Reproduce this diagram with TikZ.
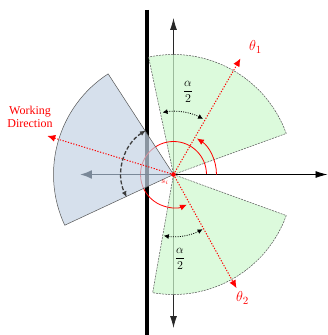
\documentclass[tikz,border=0pt]{standalone}
\usepackage{fontspec}
\setmainfont{Liberation Serif}
\usetikzlibrary{arrows.meta}
\definecolor{sectgreen}{RGB}{205,248,205}
\definecolor{sectblue}{RGB}{196,211,228}
\definecolor{edgegray}{RGB}{85,85,85}
\definecolor{arrowgray}{RGB}{122,136,152}
\definecolor{axisgray}{RGB}{40,40,40}
\begin{document}
\begin{tikzpicture}[x=1pt,y=1pt,
  greensector/.style={fill=sectgreen,fill opacity=0.7,draw=edgegray,dash pattern=on 2pt off 1pt,line width=0.5pt},
  bluesector/.style={fill=sectblue,fill opacity=0.7,draw=edgegray,line width=0.5pt},
  axisarrow/.style={draw=axisgray,line width=0.9pt,-{Latex[length=12pt,width=7pt]}},
  wallline/.style={draw=black,line width=3.5pt},
  reddot/.style={draw=red,line width=1pt,dash pattern=on 1.2pt off 1.6pt,-{Latex[length=8pt,width=7pt]}},
  redarc/.style={draw=red,line width=0.8pt,-{Latex[length=7pt,width=6pt]}},
  alphaarc/.style={draw=black,line width=0.8pt,dash pattern=on 1pt off 1.3pt,{Latex[length=5pt,width=5pt]}-{Latex[length=5pt,width=5pt]}},
  dirarc/.style={draw=axisgray!90,line width=1.3pt,dash pattern=on 4pt off 2pt,{Latex[length=6pt,width=5pt]}-{Latex[length=6pt,width=5pt]}},
  grayarrow/.style={draw=arrowgray,line width=1.8pt,-{Latex[length=12pt,width=9pt]}},
  redlabel/.style={text=red,inner sep=0pt}
]
\useasboundingbox (-173.5,-160.5) rectangle (154.5,174.5);
\coordinate (O) at (0,0);
\coordinate (up) at (0,156.5);
\coordinate (down) at (0,-153.5);
\coordinate (right) at (154,0);
\coordinate (walltop) at (-26.5,164.5);
\coordinate (wallbot) at (-26.5,-161);
\coordinate (left) at (-93.5,0);
\coordinate (t1) at (60:134);
\coordinate (t2) at (-61:130);
\coordinate (wdir) at (163:132);

% axes and wall
\draw[axisarrow] (O) -- (up);
\draw[axisarrow] (O) -- (down);
\draw[wallline] (walltop) -- (wallbot);

% green sectors
\path[greensector] (O) -- (20:120) arc[start angle=20,end angle=102,radius=120] -- cycle;
\path[greensector] (O) -- (-20:120) arc[start angle=-20,end angle=-100,radius=120] -- cycle;

% red inner arc (under the blue sector)
\draw[redarc] (O) ++(0:33) arc[start angle=0,end angle=294,radius=33];

% blue sector
\path[bluesector] (O) -- (123:120) arc[start angle=123,end angle=205,radius=120] -- cycle;

\draw[axisarrow,draw=black] (O) -- (right);
\draw[grayarrow] (O) -- (left);

% red direction lines
\draw[reddot] (O) -- (t1);
\draw[reddot] (O) -- (t2);
\draw[reddot] (O) -- (wdir);

% red angle arc
\draw[redarc] (O) ++(0:43) arc[start angle=0,end angle=57,radius=43];

% alpha/2 arcs
\draw[alphaarc] (O) ++(100:63) arc[start angle=100,end angle=62,radius=63];
\draw[alphaarc] (O) ++(-99:62) arc[start angle=-99,end angle=-62,radius=62];
\draw[dirarc] (O) ++(122:52) arc[start angle=122,end angle=206,radius=52];

\fill[red] (O) circle (2.3pt);

% labels
\node[inner sep=0pt,font=\fontsize{13}{15}\selectfont] (a1) at (14.5,82.5) {$\displaystyle\frac{\alpha}{2}$};
\node[inner sep=0pt,font=\fontsize{13}{15}\selectfont] (a2) at (6.5,-84.5) {$\displaystyle\frac{\alpha}{2}$};
\node[redlabel,font=\fontsize{15}{17}\selectfont] (l1) at (82,127.5) {$\theta_1$};
\node[redlabel,font=\fontsize{15}{17}\selectfont] (l2) at (69,-123.5) {$\theta_2$};
\node[redlabel,font=\fontsize{8}{9}\selectfont] (si) at (-8.5,-7.5) {$s_i$};
\node[redlabel,align=center,font=\fontsize{12}{12.5}\selectfont] (wd) at (-143.5,57.5) {Working\\Direction};
\end{tikzpicture}
\end{document}
